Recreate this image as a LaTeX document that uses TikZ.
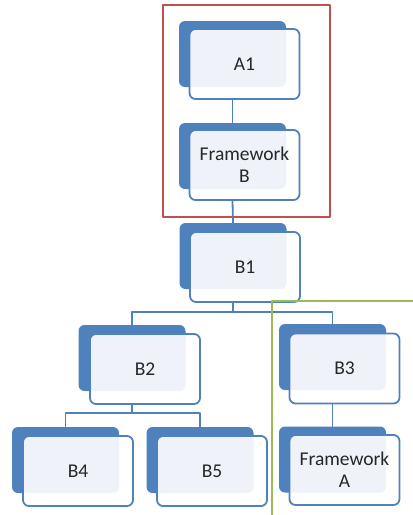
\documentclass[tikz,border=0pt]{standalone}
\usepackage{fontspec}
\setmainfont{Carlito}
\definecolor{boxblue}{RGB}{79,129,189}
\definecolor{framered}{RGB}{192,80,77}
\definecolor{framegreen}{RGB}{155,187,89}

\begin{document}
\begin{tikzpicture}[x=1pt,y=-1pt,line cap=round,line join=round,
  back/.style={fill=boxblue,rounded corners=6pt,minimum width=107pt,minimum height=66pt,inner sep=0pt},
  front/.style={draw=boxblue,line width=1.8pt,fill=white,fill opacity=0.91,text opacity=1,rounded corners=6pt,
    minimum width=110pt,minimum height=70pt,inner sep=0pt,align=center,
    font=\fontsize{19.5}{22}\selectfont,text=black!85},
  link/.style={draw=boxblue,line width=1.8pt}]
		\useasboundingbox (0,0) rectangle (413,515);
		% upper chain
		\node[back] (a1b) at (232.5,54) {};
		\node[front] (a1) at (244.5,64) {A1};
		\node[back] (fbb) at (232.5,156) {};
		\node[front] (fb) at (244.5,165) {Framework\\B};
		\node[back] (b1b) at (233,256) {};
		\node[front] (b1) at (245,267) {B1};
		% second level
		\node[back] (b2b) at (132,358) {};
		\node[front] (b2) at (145,369) {B2};
		\node[back] (b3b) at (332.5,357) {};
		\node[front] (b3) at (344.5,368.5) {B3};
		% third level
		\node[back] (b4b) at (65.5,460) {};
		\node[front] (b4) at (78,471) {B4};
		\node[back] (b5b) at (200,460) {};
		\node[front] (b5) at (212,471) {B5};
		\node[back] (fab) at (332.5,459.5) {};
		\node[front] (fa) at (344.5,470) {Framework\\A};
		% connectors
		\coordinate (bus1) at (233,312);
		\coordinate (bus2) at (132,413);
		\draw[link] (a1b.center |- a1.south) -- (fbb.north);
		\draw[link] (fbb.center |- fb.south) -- (b1b.north);
		\draw[link] (b1b.center |- b1.south) -- (b1b.center |- bus1);
		\draw[link] (b2b.north) |- (b3b.north |- bus1) -- (b3b.north);
		\draw[link] (b2b.center |- b2.south) -- (b2b.center |- bus2);
		\draw[link] (b4b.north) |- (b5b.north |- bus2) -- (b5b.north);
		\draw[link] (b3b.center |- b3.south) -- (fab.north);
		% frames
		\draw[framered,line width=1.6pt] (163,5) rectangle (330,217);
		\draw[framegreen,line width=1.6pt] (413,301) -- (272,301) -- (272,515);
\end{tikzpicture}
\end{document}
